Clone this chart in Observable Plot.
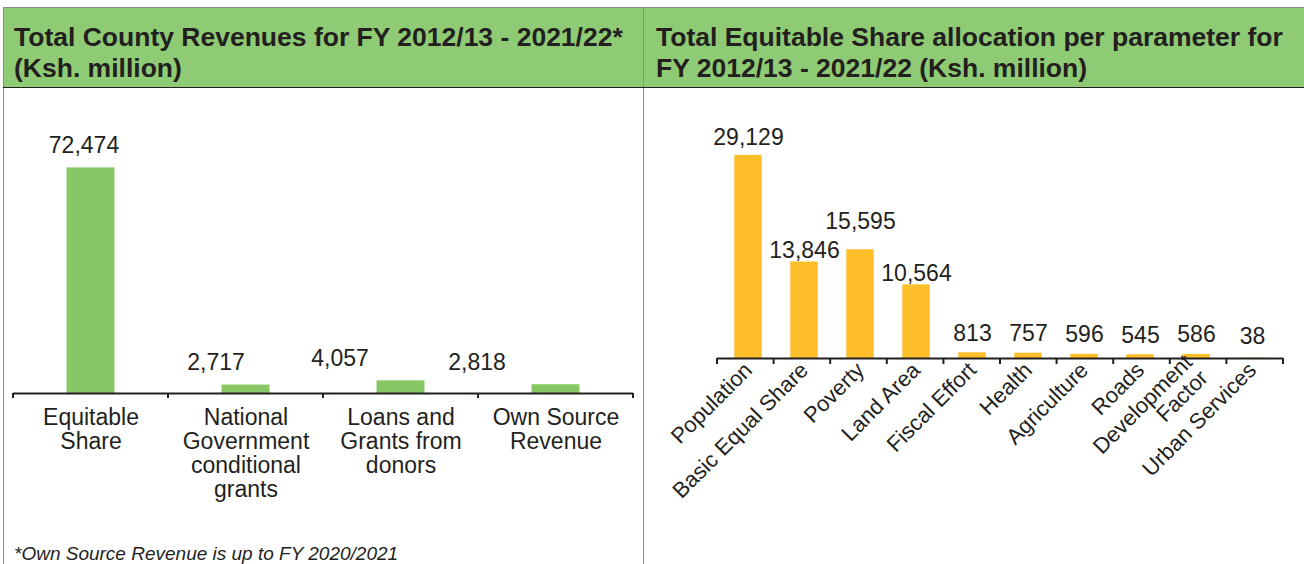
<!DOCTYPE html>
<html><head><meta charset="utf-8">
<script src="https://cdn.jsdelivr.net/npm/d3@7"></script>
<script src="https://cdn.jsdelivr.net/npm/@observablehq/plot@0.6"></script>
<style>
body{margin:0;background:#fff;font-family:"Liberation Sans",Arial,Helvetica,sans-serif;color:#231f20}
#wrap{position:relative;width:1304px;height:564px;overflow:hidden;background:#fff}
.ln{position:absolute;z-index:5}
.hdr{position:absolute;top:8px;height:79px;background:#8fcb74;font-weight:bold;font-size:26.5px;line-height:31px;box-sizing:border-box;padding-top:14px;color:#231f20;white-space:nowrap}
.chart{position:absolute;top:88px}
.note{position:absolute;left:14px;top:544px;font-style:italic;font-size:19px;line-height:19px;white-space:nowrap}
</style>
</head><body>
<div id="wrap">
  <div class="hdr" style="left:4px;width:639px;padding-left:10px">Total County Revenues for FY 2012/13 - 2021/22*<br>(Ksh. million)</div>
  <div class="hdr" style="left:644px;width:660px;padding-left:12px">Total Equitable Share allocation per parameter for<br>FY 2012/13 - 2021/22 (Ksh. million)</div>
  <div id="left" class="chart" style="left:0px"></div>
  <div id="right" class="chart" style="left:643px"></div>
  <div class="note">*Own Source Revenue is up to FY 2020/2021</div>
  <div class="ln" style="left:3px;top:7px;width:1301px;height:1px;background:#8c8c8c"></div>
  <div class="ln" style="left:3px;top:7px;width:1px;height:557px;background:#8c8c8c"></div>
  <div class="ln" style="left:643px;top:7px;width:1px;height:557px;background:#8c8c8c"></div>
  <div class="ln" style="left:3px;top:87px;width:1301px;height:1px;background:#231f20"></div>
</div>
<script>
// ---- Data: Total County Revenues (Ksh. million)
const revCats = ["Equitable Share", "National Government conditional grants", "Loans and Grants from donors", "Own Source Revenue"];
const revTickLabels = ["Equitable\nShare", "National\nGovernment\nconditional\ngrants", "Loans and\nGrants from\ndonors", "Own Source\nRevenue"];
const revValues = [72474, 2717, 4057, 2818];

// ---- Data: Equitable Share allocation per parameter (Ksh. million)
const esCats = ["Population", "Basic Equal Share", "Poverty", "Land Area", "Fiscal Effort", "Health", "Agriculture", "Roads", "Development Factor", "Urban Services"];
const esTickLabels = ["Population", "Basic Equal Share", "Poverty", "Land Area", "Fiscal Effort", "Health", "Agriculture", "Roads", "Development\nFactor", "Urban Services"];
const esValues = [29129, 13846, 15595, 10564, 813, 757, 596, 545, 586, 38];

const revData = revCats.map((c, i) => ({cat: c, value: revValues[i]}));
const esData = esCats.map((c, i) => ({cat: c, value: esValues[i]}));
const fmt = d3.format(",");
const ink = "#231f20";
const font = '"Liberation Sans", Arial, Helvetica, sans-serif';

// boundary ticks between bands, drawn from the plot's own scale/frame
function boundaryTicks(n, len) {
  return (index, scales, values, dims) => {
    const g = d3.create("svg:g");
    const y0 = scales.y(0);
    const step = (dims.width - dims.marginLeft - dims.marginRight) / n;
    for (let i = 0; i <= n; i++) {
      const x = dims.marginLeft + i * step;
      g.append("line").attr("x1", x).attr("x2", x).attr("y1", y0).attr("y2", y0 + len)
        .attr("stroke", ink).attr("stroke-width", 2);
    }
    return g.node();
  };
}

// ---- Left chart
const leftShift = [-7, -30, -61, -79];
const left = Plot.plot({
  width: 643, height: 420,
  marginLeft: 13, marginRight: 10, marginTop: 56, marginBottom: 115,
  style: {background: "transparent", fontFamily: font, color: ink, overflow: "visible"},
  x: {domain: revCats, padding: 0},
  y: {domain: [0, 80000], axis: null},
  marks: [
    Plot.barY(revData, {x: "cat", y: "value", fill: "#88c765", insetLeft: 53.5, insetRight: 53.5}),
    Plot.ruleY([0], {stroke: ink, strokeWidth: 2}),
    boundaryTicks(revCats.length, 5),
    Plot.axisX({label: null, tickSize: 0, tickPadding: 14, fontSize: 23, lineHeight: 1.05, fill: ink,
      tickFormat: d => revTickLabels[revCats.indexOf(d)]}),
    ...revData.map((d, i) => Plot.text([d], {x: "cat", y: "value", text: r => fmt(r.value),
      dy: -15, dx: leftShift[i], lineAnchor: "bottom", fontSize: 23, fill: ink}))
  ]
});
document.getElementById("left").appendChild(left);

// ---- Right chart
const rightLift = [10, 4, 21, 4, 12, 12, 12, 12, 12, 14];
const right = Plot.plot({
  width: 661, height: 430,
  marginLeft: 74, marginRight: 21, marginTop: 26, marginBottom: 160,
  style: {background: "transparent", fontFamily: font, color: ink, overflow: "visible"},
  x: {domain: esCats, padding: 0},
  y: {domain: [0, 35000], axis: null},
  marks: [
    Plot.barY(esData, {x: "cat", y: "value", fill: "#fdbe2a", insetLeft: 14.3, insetRight: 14.3}),
    Plot.ruleY([0], {stroke: ink, strokeWidth: 2}),
    boundaryTicks(esCats.length, 6),
    Plot.axisX({label: null, tickSize: 0, tickPadding: 8, tickRotate: -45, fontSize: 22, lineHeight: 1.0, fill: ink,
      tickFormat: d => esTickLabels[esCats.indexOf(d)]}),
    ...esData.map((d, i) => Plot.text([d], {x: "cat", y: "value", text: r => fmt(r.value),
      dy: -rightLift[i], lineAnchor: "bottom", fontSize: 23, fill: ink}))
  ]
});
document.getElementById("right").appendChild(right);
</script>
</body></html>
